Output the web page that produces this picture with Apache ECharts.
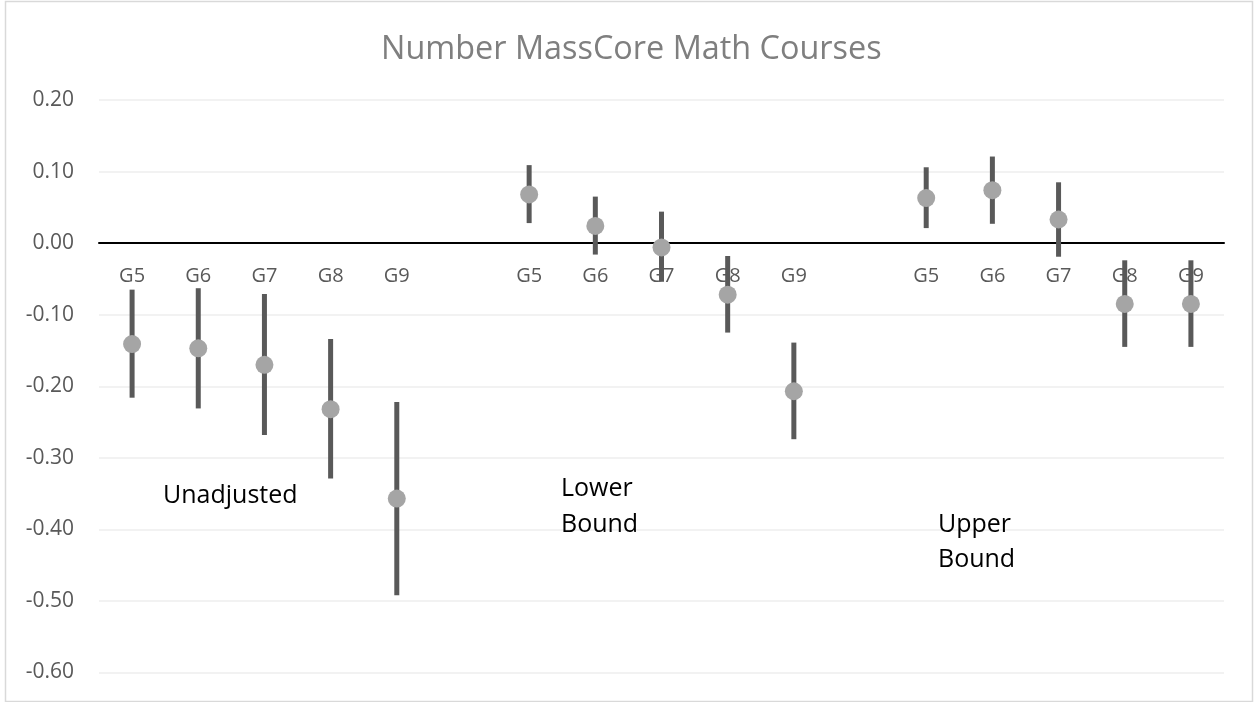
<!DOCTYPE html>
<html>
<head>
    <meta charset="utf-8">
    <title>Number MassCore Math Courses</title>
    <script src="https://cdn.jsdelivr.net/npm/echarts@6/dist/echarts.min.js"></script>
    <style>
        html, body { margin: 0; padding: 0; background: #fff; }
        #chart { width: 1254px; height: 702px; }
    </style>
</head>
<body>
    <div id="chart"></div>
    <script>
    // three groups of grades, one empty slot between groups
    var grades = ['G5', 'G6', 'G7', 'G8', 'G9'];

    var unadjMid  = [-0.141, -0.147, -0.170, -0.232, -0.357];
    var unadjLow  = [-0.216, -0.231, -0.268, -0.329, -0.492];
    var unadjHigh = [-0.065, -0.063, -0.071, -0.134, -0.222];

    var lowerMid  = [0.068, 0.024, -0.006, -0.072, -0.207];
    var lowerLow  = [0.028, -0.016, -0.054, -0.125, -0.274];
    var lowerHigh = [0.109, 0.065, 0.044, -0.018, -0.139];

    var upperMid  = [0.063, 0.074, 0.033, -0.085, -0.085];
    var upperLow  = [0.021, 0.027, -0.019, -0.145, -0.145];
    var upperHigh = [0.106, 0.121, 0.085, -0.024, -0.024];

    var groupNames = ['Unadjusted', 'Lower\nBound', 'Upper\nBound'];

    // build the flat category list with gaps
    var categories = [];
    var mids = [];
    var bars = [];
    var groups = [[unadjMid, unadjLow, unadjHigh], [lowerMid, lowerLow, lowerHigh], [upperMid, upperLow, upperHigh]];
    groups.forEach(function(g, gi) {
        if (gi > 0) {
            categories.push('');
            mids.push(null);
        }
        grades.forEach(function(name, i) {
            var idx = categories.length;
            categories.push(name);
            mids.push(g[0][i]);
            bars.push([idx, g[1][i], g[2][i]]);
        });
    });
    // labels sit right under the zero line, like the excel axis
    var labelData = categories.map(function(c, i) { return [i, 0, c]; });

    var font = 'Open Sans';
    var chart = echarts.init(document.getElementById('chart'));
    chart.setOption({
        animation: false,
        title: {
            text: 'Number MassCore Math Courses',
            left: 376,
            top: 29,
            textStyle: {
                fontFamily: font,
                fontSize: 32.4,
                fontWeight: 'normal',
                color: '#7f7f7f'
            }
        },
        grid: {
            left: 99,
            right: 30,
            top: 100,
            bottom: 29.5,
            outerBoundsMode: 'none'
        },
        xAxis: {
            type: 'category',
            data: categories,
            axisTick: { show: false },
            axisLine: {
                onZero: true,
                lineStyle: { color: '#000', width: 2 }
            },
            axisLabel: { show: false },
            splitLine: { show: false }
        },
        yAxis: {
            type: 'value',
            min: -0.6,
            max: 0.2,
            interval: 0.1,
            axisLine: { show: false },
            axisTick: { show: false },
            axisLabel: {
                margin: 25,
                fontFamily: font,
                fontSize: 21,
                color: '#595959',
                formatter: function(v) { return v.toFixed(2); }
            },
            splitLine: {
                lineStyle: { color: '#eeeeee', width: 1.5 }
            }
        },
        series: [
            {
                type: 'custom',
                data: labelData,
                z: 1,
                silent: true,
                renderItem: function(params, api) {
                    var p = api.coord([api.value(0), api.value(1)]);
                    return {
                        type: 'text',
                        x: p[0],
                        y: p[1] + 23,
                        style: {
                            text: categories[api.value(0)],
                            font: '20px "Open Sans"',
                            fill: '#595959',
                            align: 'center',
                            verticalAlign: 'top'
                        }
                    };
                }
            },
            {
                type: 'custom',
                data: bars,
                z: 3,
                renderItem: function(params, api) {
                    var lo = api.coord([api.value(0), api.value(1)]);
                    var hi = api.coord([api.value(0), api.value(2)]);
                    return {
                        type: 'rect',
                        shape: { x: lo[0] - 2.5, y: hi[1], width: 5, height: lo[1] - hi[1] },
                        style: { fill: '#595959' }
                    };
                }
            },
            {
                type: 'scatter',
                data: mids,
                symbol: 'circle',
                symbolSize: 18,
                z: 4,
                itemStyle: { color: '#a5a5a5', opacity: 1 }
            }
        ],
        graphic: [
            {
                type: 'rect',
                silent: true,
                shape: { x: 5.5, y: 1.5, width: 1247, height: 700 },
                style: { fill: 'none', stroke: '#d9d9d9', lineWidth: 1.5 }
            },
            {
                type: 'text', left: 163, top: 478, z: 10,
                style: { text: groupNames[0], font: '25px "Open Sans"', fill: '#000', lineHeight: 35 }
            },
            {
                type: 'text', left: 561, top: 471, z: 10,
                style: { text: groupNames[1], font: '25px "Open Sans"', fill: '#000', lineHeight: 36 }
            },
            {
                type: 'text', left: 938, top: 507, z: 10,
                style: { text: groupNames[2], font: '25px "Open Sans"', fill: '#000', lineHeight: 35 }
            }
        ]
    });
    </script>
</body>
</html>
